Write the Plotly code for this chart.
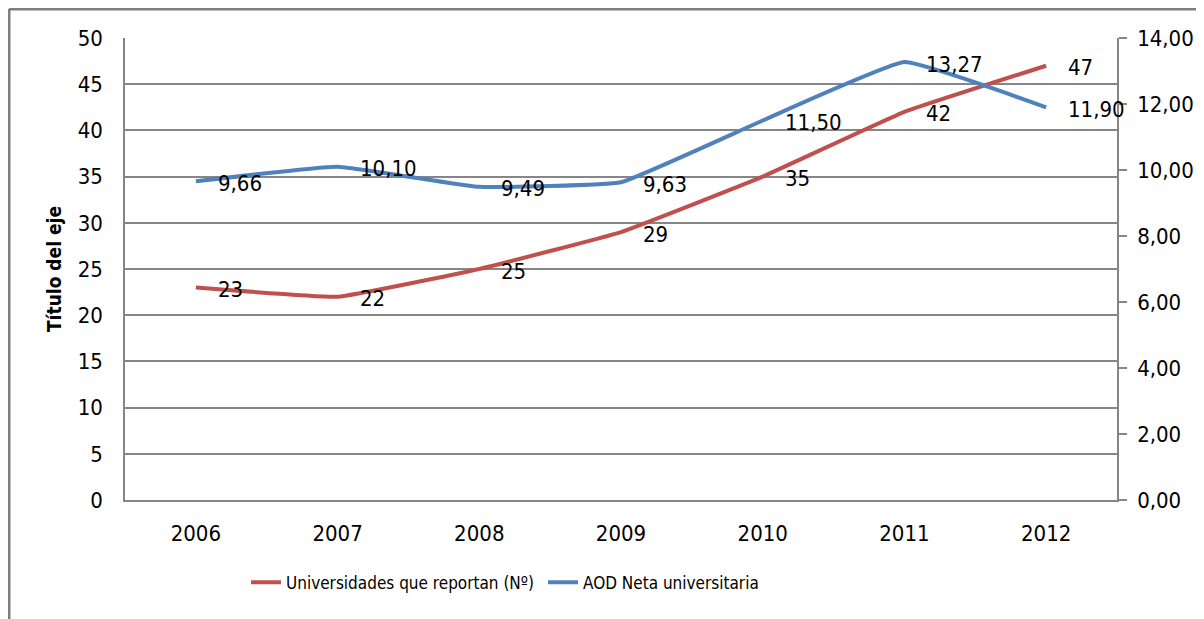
import plotly.graph_objects as go

years = ["2006", "2007", "2008", "2009", "2010", "2011", "2012"]
universidades = [23, 22, 25, 29, 35, 42, 47]
aod_neta = [9.66, 10.10, 9.49, 9.63, 11.50, 13.27, 11.90]
left_ticks = [0, 5, 10, 15, 20, 25, 30, 35, 40, 45, 50]
right_ticks = [0, 2, 4, 6, 8, 10, 12, 14]

FONT = "Liberation Sans Narrow, DejaVu Sans Condensed, Arial Narrow, sans-serif"
RED = "#C0504D"
BLUE = "#4F81BD"
GRID = "#868686"
LBL = 22
TICK = 22

# page body has an 8px margin, so figure coordinates are offset by 8px
ML, MR, MT, MB = 117, 95, 30, 127
PW, PH = 1204 - ML - MR, 619 - MT - MB

fig = go.Figure()
fig.add_trace(go.Scatter(
    x=years, y=universidades, name="Universidades que reportan (Nº)",
    mode="lines", line=dict(color=RED, width=4, shape="spline", smoothing=0.3),
    yaxis="y",
))
fig.add_trace(go.Scatter(
    x=years, y=aod_neta, name="AOD Neta universitaria",
    mode="lines", line=dict(color=BLUE, width=4, shape="spline", smoothing=0.3),
    yaxis="y2",
))

annotations = []
for i, v in enumerate(universidades):
    annotations.append(dict(x=i, y=v, xref="x", yref="y", text=str(v), showarrow=False,
                            xanchor="left", yanchor="middle", xshift=20, yshift=-2,
                            font=dict(family=FONT, size=LBL, color="black")))
for i, v in enumerate(aod_neta):
    annotations.append(dict(x=i, y=v, xref="x", yref="y2", text=f"{v:.2f}".replace(".", ","),
                            showarrow=False, xanchor="left", yanchor="middle", xshift=20,
                            yshift=-2, font=dict(family=FONT, size=LBL, color="black")))

fig.update_layout(
    template="none",
    width=1204, height=619,
    margin=dict(l=ML, r=MR, t=MT, b=MB, pad=0),
    paper_bgcolor="white", plot_bgcolor="white",
    font=dict(family=FONT, size=TICK, color="black"),
    separators=",.",
    showlegend=True,
    legend=dict(orientation="h", x=(246 - 8 - ML) / PW, xanchor="left", y=-0.14, yanchor="top",
                font=dict(family=FONT, size=17), traceorder="normal",
                entrywidth=252, entrywidthmode="pixels", bgcolor="rgba(0,0,0,0)"),
    xaxis=dict(type="category", range=[-0.5, 6.5], showgrid=False, showline=True,
               linecolor=GRID, linewidth=1.5, ticks="", ticklabelstandoff=13,
               tickfont=dict(size=TICK), zeroline=False, automargin=False),
    yaxis=dict(range=[0, 50], tickvals=left_ticks, showgrid=True, gridcolor=GRID,
               gridwidth=1.5, showline=True, linecolor=GRID, linewidth=1.5,
               ticks="", ticklabelstandoff=16, zeroline=False, automargin=False,
               tickfont=dict(size=TICK),
               title=dict(text="<b>Título del eje</b>", standoff=11,
                          font=dict(family=FONT, size=19))),
    yaxis2=dict(range=[0, 14], tickvals=right_ticks, tickformat=".2f", overlaying="y",
                side="right", showgrid=False, showline=True, linecolor=GRID,
                linewidth=1.5, ticks="outside", ticklen=8, tickcolor=GRID,
                tickwidth=1.5, ticklabelstandoff=6, zeroline=False, automargin=False,
                tickfont=dict(size=TICK)),
    annotations=annotations,
    shapes=[
        dict(type="line", xref="paper", yref="paper", x0=-ML / PW + 1 / PW, x1=1.2,
             y0=1 + (MT - 1) / PH, y1=1 + (MT - 1) / PH, line=dict(color="#7f7f7f", width=3)),
        dict(type="line", xref="paper", yref="paper", x0=-ML / PW + 1 / PW, x1=-ML / PW + 1 / PW,
             y0=1 + (MT - 1) / PH, y1=-0.4, line=dict(color="#7f7f7f", width=3)),
    ],
)

fig.write_html("out.html")
